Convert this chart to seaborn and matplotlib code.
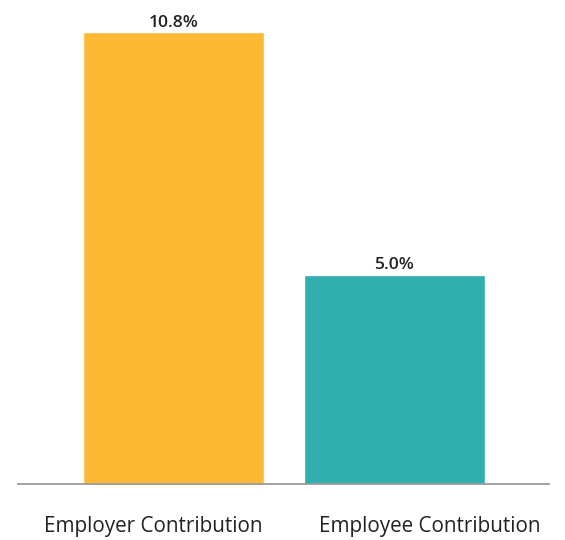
import matplotlib
matplotlib.use("Agg")
import matplotlib.pyplot as plt
import matplotlib.transforms as mtransforms
import seaborn as sns
import pandas as pd

categories = ["Employer Contribution", "Employee Contribution"]
values = [10.8, 5.0]
colors = ["#FDB933", "#31AEAE"]

sns.set_theme(style="white")
plt.rcParams["font.family"] = ["Open Sans", "DejaVu Sans"]

df = pd.DataFrame({"category": categories, "value": values})

fig = plt.figure(figsize=(5.65, 5.4), dpi=100)
ax = fig.add_axes([0.031, 0.1037, 0.9406, 0.878])

sns.barplot(data=df, x="category", y="value", hue="category",
            palette=colors, width=0.82, saturation=1, legend=False, ax=ax)

ax.set_xlim(-0.706, 1.699)
ax.set_ylim(0, 11.33)

# value labels just above each bar
for i, v in enumerate(values):
    ax.annotate(f"{v:.1f}%", xy=(i, v), xytext=(0, 3.8), textcoords="offset points",
                ha="center", va="baseline", fontsize=12.6, fontweight="semibold",
                color="#222222")

# category labels below the baseline, nudged sideways
ax.set_xticks(range(len(categories)))
ax.set_xticklabels([])
label_shift_px = [-20, 35]
for i, (cat, dx) in enumerate(zip(categories, label_shift_px)):
    tr = ax.get_xaxis_transform() + mtransforms.ScaledTranslation(
        dx / 100, -48 / 100, fig.dpi_scale_trans)
    ax.text(i, 0, cat, transform=tr, ha="center", va="baseline",
            fontsize=14.9, color="#222222")

ax.set_xlabel("")
ax.set_ylabel("")
ax.set_yticks([])
ax.tick_params(axis="x", length=0)
for s in ["top", "left", "right"]:
    ax.spines[s].set_visible(False)
ax.spines["bottom"].set_color("#9a9a9a")
ax.spines["bottom"].set_linewidth(1.3)

fig.savefig("out.png", dpi=100)
